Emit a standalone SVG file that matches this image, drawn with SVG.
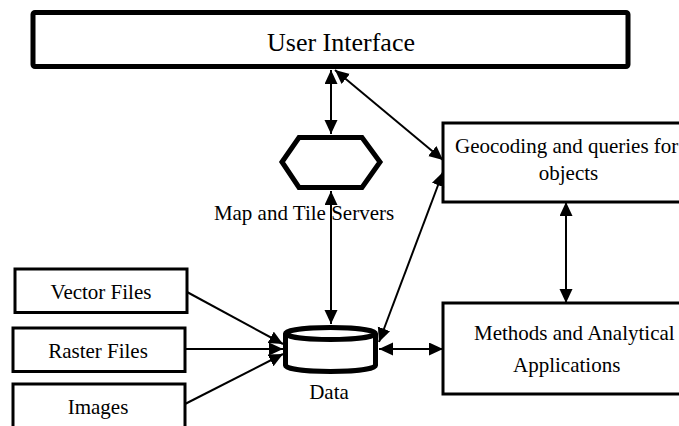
<svg xmlns="http://www.w3.org/2000/svg" width="679" height="426" viewBox="0 0 679 426">
<style>
text{font-family:"Liberation Serif","Times New Roman",serif;font-size:21px;fill:#000}
.box{fill:#fff;stroke:#000;stroke-width:3}
.thick{fill:#fff;stroke:#000;stroke-width:5}
.conn line{stroke:#000;stroke-width:2}
</style>
<defs>
<marker id="ah" markerUnits="userSpaceOnUse" markerWidth="15" markerHeight="14" refX="14" refY="6.5" orient="auto-start-reverse">
<path d="M0,0 L14,6.5 L0,13 z" fill="#000"/>
</marker>
</defs>
<g id="user-interface">
<rect class="thick" x="33" y="12.5" width="595" height="54" rx="2"/>
<text x="341" y="51" text-anchor="middle" style="font-size:26px">User Interface</text>
</g>
<g id="map-tile-servers">
<path class="thick" d="M282,162 L299,137.5 L362,137.5 L380,162 L362,187.5 L299,187.5 Z" stroke-linejoin="miter"/>
<text x="304" y="220" text-anchor="middle">Map and Tile Servers</text>
</g>
<g id="geocoding">
<rect class="box" x="443" y="123" width="250" height="79"/>
<text x="455" y="153">Geocoding and queries for</text>
<text x="568.5" y="180" text-anchor="middle">objects</text>
</g>
<g id="methods">
<rect class="box" x="443" y="303" width="250" height="91"/>
<text x="474" y="340">Methods and Analytical</text>
<text x="513" y="372">Applications</text>
</g>
<g id="data">
<path class="thick" d="M285.5,333.5 V365.5 A45,6 0 0 0 375.5,365.5 V333.5"/>
<ellipse class="thick" cx="330.5" cy="333.5" rx="45" ry="6"/>
<text x="329" y="399" text-anchor="middle">Data</text>
</g>
<g id="vector-files">
<rect class="box" x="15" y="269" width="172" height="43.5"/>
<text x="101" y="299" text-anchor="middle">Vector Files</text>
</g>
<g id="raster-files">
<rect class="box" x="13" y="328" width="172" height="43.5"/>
<text x="98" y="358" text-anchor="middle">Raster Files</text>
</g>
<g id="images">
<rect class="box" x="13" y="384" width="172" height="60"/>
<text x="98" y="414" text-anchor="middle">Images</text>
</g>
<g id="connectors" class="conn">
<line x1="331" y1="70" x2="331" y2="134" marker-start="url(#ah)" marker-end="url(#ah)"/>
<line x1="335" y1="70" x2="443" y2="160" marker-start="url(#ah)" marker-end="url(#ah)"/>
<line x1="331" y1="191" x2="331" y2="324" marker-start="url(#ah)" marker-end="url(#ah)"/>
<line x1="379" y1="342" x2="443" y2="172" marker-start="url(#ah)" marker-end="url(#ah)"/>
<line x1="379" y1="349" x2="443" y2="349" marker-start="url(#ah)" marker-end="url(#ah)"/>
<line x1="566" y1="202" x2="566" y2="303" marker-start="url(#ah)" marker-end="url(#ah)"/>
<line x1="187" y1="292" x2="283" y2="344" marker-end="url(#ah)"/>
<line x1="185" y1="349" x2="283" y2="349" marker-end="url(#ah)"/>
<line x1="185" y1="404" x2="283" y2="354" marker-end="url(#ah)"/>
</g>
</svg>
